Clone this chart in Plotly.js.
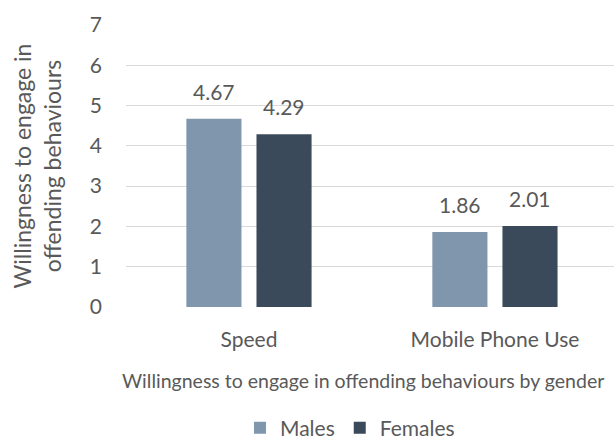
<!DOCTYPE html>
<html>
<head>
<meta charset="utf-8">
<script src="https://cdn.plot.ly/plotly-3.0.1.min.js"></script>
<style>html,body{margin:0;padding:0;background:#fff;}#chart{width:614px;height:439px;}</style>
</head>
<body>
<div id="chart"></div>
<script>
var categories = ["Speed", "Mobile Phone Use"];
var males = [4.67, 1.86];
var females = [4.29, 2.01];
var seriesNames = ["Males", "Females"];
var yTicks = [0, 1, 2, 3, 4, 5, 6, 7];
var xTitle = "Willingness to engage in offending behaviours by gender";
var yTitle = "Willingness to engage in<br>offending behaviours";

var FONT = "Lato, sans-serif";
var GREY = "#595959";
var colors = ["#7f96ac", "#3b4a5a"];
var xpos = categories.map(function (c, i) { return i; });
var offs = [-0.142, 0.142];

var traces = [males, females].map(function (vals, k) {
  return {
    type: "bar", name: seriesNames[k], x: xpos, y: vals,
    marker: {color: colors[k]}, hoverinfo: "none"
  };
});

var annotations = [];
[males, females].forEach(function (vals, k) {
  vals.forEach(function (v, i) {
    annotations.push({
      x: xpos[i] + offs[k], y: v, xref: "x", yref: "y",
      text: v.toFixed(2), showarrow: false, yanchor: "bottom", yshift: 13,
      font: {family: FONT, size: 21, color: GREY}
    });
  });
});
annotations.push({
  x: 0.486, y: -0.262, xref: "paper", yref: "paper", xanchor: "center", yanchor: "middle",
  text: xTitle, showarrow: false, font: {family: FONT, size: 19.5, color: GREY}
});

var layout = {
  width: 614, height: 439,
  margin: {l: 126, r: 0, t: 25, b: 132, pad: 0, autoexpand: false},
  paper_bgcolor: "#fff", plot_bgcolor: "#fff",
  barmode: "group", bargap: 0.43, bargroupgap: 0.214,
  showlegend: true,
  legend: {orientation: "h", xref: "container", yref: "container",
           x: 0.57, xanchor: "center", y: 0.025, yanchor: "middle",
           font: {family: FONT, size: 21, color: GREY}, traceorder: "normal", itemwidth: 30},
  xaxis: {
    range: [-0.5, 1.484], tickvals: xpos, ticktext: categories, automargin: false,
    showgrid: false, zeroline: false, showline: false, ticks: "",
    ticklabelstandoff: 18,
    tickfont: {family: FONT, size: 21, color: GREY}
  },
  yaxis: {
    range: [0, 7], tickvals: yTicks, showgrid: true, gridcolor: "#d9d9d9", gridwidth: 1,
    automargin: false,
    zeroline: false, showline: false, ticks: "", ticklabelstandoff: 23,
    tickfont: {family: FONT, size: 21, color: GREY},
    title: {text: yTitle, standoff: 21,
            font: {family: FONT, size: 23, color: GREY}}
  },
  annotations: annotations
};

Plotly.newPlot("chart", traces, layout, {displayModeBar: false, staticPlot: true});
</script>
</body>
</html>
